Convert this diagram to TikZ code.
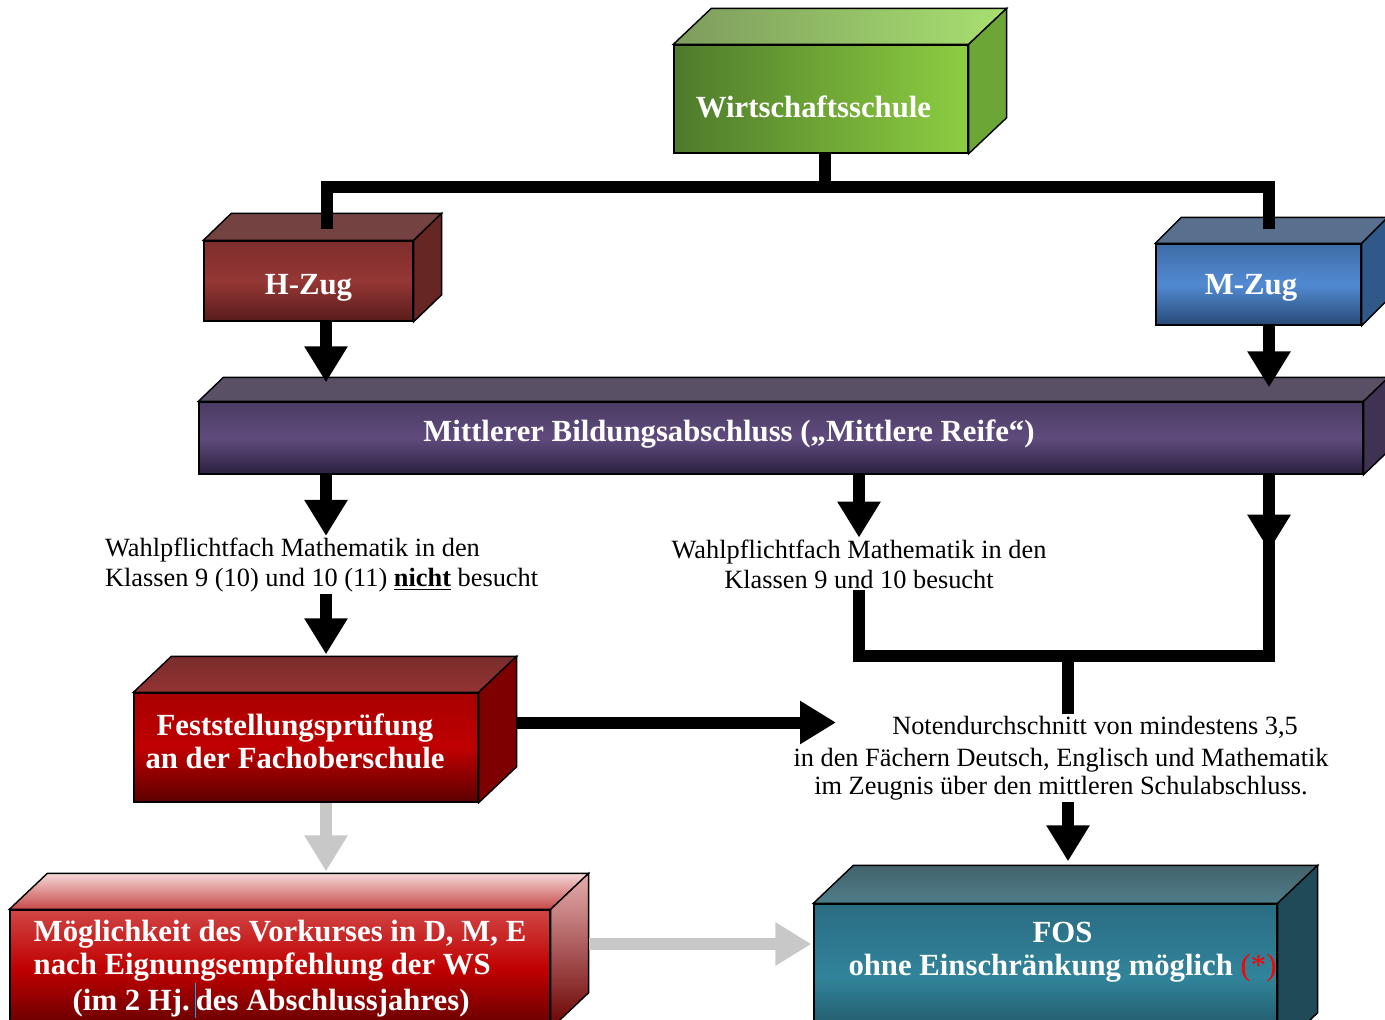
\documentclass[tikz,border=0pt]{standalone}
\usepackage{fontspec}
\setmainfont{Liberation Serif}
\usetikzlibrary{arrows.meta}
\usetikzlibrary{positioning}
\usetikzlibrary{calc}

\definecolor{wsL}{HTML}{4E7A2C}
\definecolor{wsM}{HTML}{6EA535}
\definecolor{wsR}{HTML}{8DCD42}
\definecolor{wsTopL}{HTML}{7E9C5E}
\definecolor{wsTopR}{HTML}{A8E070}
\definecolor{wsSide}{HTML}{6BA637}
\definecolor{hzT}{HTML}{7D2E2C}
\definecolor{hzM}{HTML}{953735}
\definecolor{hzB}{HTML}{581C1B}
\definecolor{hzTop}{HTML}{744341}
\definecolor{hzSide}{HTML}{662624}
\definecolor{mzT}{HTML}{3E6DA8}
\definecolor{mzM}{HTML}{528AD2}
\definecolor{mzB}{HTML}{284A76}
\definecolor{mzTop}{HTML}{58708E}
\definecolor{mzSide}{HTML}{30598A}
\definecolor{mbaT}{HTML}{4B3C63}
\definecolor{mbaM}{HTML}{5F4B7D}
\definecolor{mbaB}{HTML}{2B203F}
\definecolor{mbaTop}{HTML}{5A5066}
\definecolor{mbaSide}{HTML}{3F3252}
\definecolor{fpT}{HTML}{A80000}
\definecolor{fpM}{HTML}{C00000}
\definecolor{fpB}{HTML}{5C0000}
\definecolor{fpTopB}{HTML}{7A2C2C}
\definecolor{fpTopF}{HTML}{943333}
\definecolor{fpSide}{HTML}{7E0000}
\definecolor{vkT}{HTML}{D04545}
\definecolor{vkM}{HTML}{C00000}
\definecolor{vkB}{HTML}{640000}
\definecolor{vkTopB}{HTML}{F6D8D8}
\definecolor{vkTopF}{HTML}{C64848}
\definecolor{vkSideT}{HTML}{E7ADAD}
\definecolor{vkSideB}{HTML}{6A0000}
\definecolor{fosT}{HTML}{2A6C82}
\definecolor{fosM}{HTML}{31849B}
\definecolor{fosB}{HTML}{1D4857}
\definecolor{fosTopB}{HTML}{43636C}
\definecolor{fosTopF}{HTML}{4E7D8A}
\definecolor{fosSide}{HTML}{1F4A58}
\definecolor{arrgray}{HTML}{C8C8C8}

% Deckel und Seite eines Quaders: Name, Tiefe x, Tiefe y, Deckel, Seite
\newcommand{\quaderfaces}[5]{%
  \path[draw=black,line width=0.8pt,#4] (#1.north west) -- ++(#2,-#3) -- ([shift={(#2,-#3)}]#1.north east) -- (#1.north east) -- cycle;
  \path[draw=black,line width=0.8pt,#5] (#1.north east) -- ([shift={(#2,-#3)}]#1.north east) -- ([shift={(#2,-#3)}]#1.south east) -- (#1.south east) -- cycle;
}
% Text senken, ohne die Boxgroesse zu aendern
\newcommand{\senk}[2]{\raisebox{-#1}[\height][\depth]{#2}}

\begin{document}
\begin{tikzpicture}[line join=miter,>={Triangle[width=0.82cm,length=0.72cm]},x=0.02cm,y=-0.02cm,
  quader/.style={draw=black,line width=0.8pt,inner sep=0pt,text=white,align=center,font=\bfseries\fontsize{17.5}{18.7}\selectfont},
  quadertext/.style={inner sep=0pt,text=white,align=center,font=\bfseries\fontsize{17.5}{18.7}\selectfont},
  txt/.style={inner sep=1pt,font=\fontsize{15}{17}\selectfont},
  bar/.style={line width=0.24cm},
  arr/.style={bar,->},
  garr/.style={arr,draw=arrgray}]
\useasboundingbox (0,0) rectangle (1385,1019);
\clip (0,0) rectangle (1385,1019);

% Spalten
\coordinate (colL) at (326,0);
\coordinate (colM) at (859,0);
\coordinate (colN) at (1068,0);
\coordinate (colR) at (1269,0);

% Kaesten
\node[quader,minimum width=5.88cm,minimum height=2.16cm,left color=wsL,right color=wsR,middle color=wsM] (ws) at (821,99) {\senk{0.16cm}{Wirtschaftsschule\hspace*{0.3cm}}};
\quaderfaces{ws}{38}{36}{left color=wsTopL,right color=wsTopR}{fill=wsSide}

\node[quader,minimum width=4.18cm,minimum height=1.6cm,top color=hzT,bottom color=hzB,middle color=hzM] (hz) at (308.5,281) {\senk{0.14cm}{H-Zug}};
\quaderfaces{hz}{28}{27}{fill=hzTop}{fill=hzSide}

\node[quader,minimum width=4.1cm,minimum height=1.62cm,top color=mzT,bottom color=mzB,middle color=mzM] (mz) at (1258.5,284.5) {\senk{0.06cm}{M-Zug\hspace*{0.3cm}}};
\quaderfaces{mz}{26}{26}{fill=mzTop}{fill=mzSide}

\node[quader,minimum width=23.28cm,minimum height=1.44cm,top color=mbaT,bottom color=mbaB,middle color=mbaM] (mba) at (781,438) {};
\quaderfaces{mba}{25}{24}{fill=mbaTop}{fill=mbaSide}
\node[quadertext] (mbaText) at ([shift={(-52,-4)}]mba.center) {Mittlerer Bildungsabschluss („Mittlere Reife“)};

\node[quader,minimum width=6.88cm,minimum height=2.18cm,top color=fpT,bottom color=fpB,middle color=fpM] (fp) at (306,747.5) {};
\quaderfaces{fp}{38}{36}{top color=fpTopB,bottom color=fpTopF}{fill=fpSide}
\node[quadertext] (fpText) at ([shift={(-11,-6)}]fp.center) {Feststellungsprüfung\\an der Fachoberschule};

\node[quader,align=left,minimum width=10.8cm,minimum height=2.36cm,top color=vkT,bottom color=vkB,middle color=vkM] (vk) at (280,969) {Möglichkeit des Vorkurses in D, M, E\\nach Eignungsempfehlung der WS\\\hspace*{0.78cm}(im 2 Hj.\,\textcolor{cyan}{\rule[-0.25em]{0.6pt}{1.15em}}des Abschlussjahres)};
\quaderfaces{vk}{38}{36}{top color=vkTopB,bottom color=vkTopF}{top color=vkSideT,bottom color=vkSideB}

\node[quader,minimum width=9.26cm,minimum height=2.92cm,top color=fosT,bottom color=fosB,middle color=fosM] (fos) at (1045.5,977) {};
\quaderfaces{fos}{40}{38}{top color=fosTopB,bottom color=fosTopF}{fill=fosSide}
\node[quadertext] (fosText) at ([shift={(17,-25)}]fos.center) {FOS\\ohne Einschränkung möglich {\mdseries\textcolor{red}{(*)}}};

% Texte
\node[txt,anchor=west,align=left] (wpL) at (103,565) {Wahlpflichtfach Mathematik in den\\Klassen 9 (10) und 10 (11) \textbf{\underline{nicht}} besucht};
\node[txt,align=center] (wpM) at (859,564) {Wahlpflichtfach Mathematik in den\\Klassen 9 und 10 besucht};
\node[txt,align=center] (note) at (1061,758) {\hspace*{1.36cm}Notendurchschnitt von mindestens 3,5\\[1.5pt]in den Fächern Deutsch, Englisch und Mathematik\\[-1pt]im Zeugnis über den mittleren Schulabschluss.};

% Verbindungen
\draw[bar] (ws.south -| 825,0) -- ++(0,33) coordinate (bus);
\draw[bar] ([shift={(18,-11)}]hz.north) |- (bus) -| ([shift={(10,-14)}]mz.north);
\draw[arr] (hz.south -| colL) -- ($(mba.north -| colL)+(0,-19)$);
\draw[arr] (mz.south -| colR) -- ($(mba.north -| colR)+(0,-14)$);
\draw[arr] (mba.south -| colL) -- (wpL.north -| colL);
\draw[arr] (mba.south -| colM) -- (wpM.north -| colM);
\draw[arr] (mba.south -| colR) -- ++(0,76);
\coordinate (joinR) at (1269,656);
\draw[bar] ($(mba.south -| colR)+(0,66)$) -- (joinR) -- (joinR -| colM) -- (wpM.south -| colM);
\draw[bar] (joinR -| colN) -- (note.north -| colN);
\draw[arr] (wpL.south -| colL) -- ($(fp.north -| colL)+(0,-38)$);
\coordinate (noteIn) at (836,722.5);
\draw[arr] ([shift={(38,-25)}]fp.east) -- (noteIn);
\draw[arr] (note.south -| colN) -- ($(fos.north -| colN)+(0,-42)$);
\draw[garr] (fp.south -| colL) -- ($(vk.north -| colL)+(0,-38)$);
\draw[garr] ([shift={(38,-25)}]vk.east) -- ([shift={(-2,-33)}]fos.west);
\end{tikzpicture}
\end{document}
